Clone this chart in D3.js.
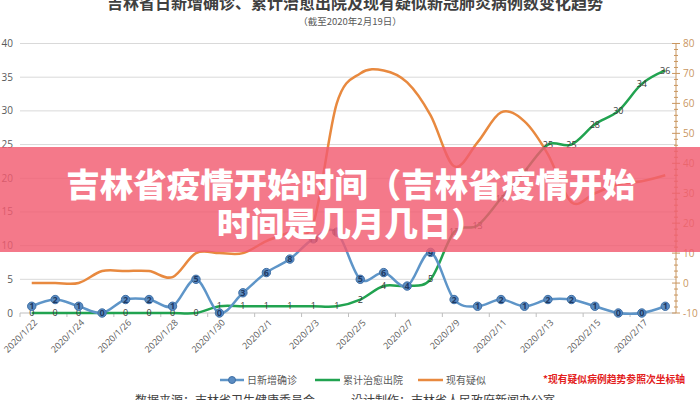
<!DOCTYPE html>
<html><head><meta charset="utf-8">
<script src="https://cdn.jsdelivr.net/npm/d3@7"></script>
<style>
html,body{margin:0;padding:0;background:#fff;}
svg{display:block;font-family:"Noto Sans CJK SC","Noto Sans",sans-serif;}
</style></head>
<body>
<svg id="chart" width="700" height="400"></svg>
<script>
const dates = ["2020/1/22","2020/1/23","2020/1/24","2020/1/25","2020/1/26","2020/1/27","2020/1/28","2020/1/29","2020/1/30","2020/1/31",
  "2020/2/1","2020/2/2","2020/2/3","2020/2/4","2020/2/5","2020/2/6","2020/2/7","2020/2/8","2020/2/9","2020/2/10",
  "2020/2/11","2020/2/12","2020/2/13","2020/2/14","2020/2/15","2020/2/16","2020/2/17","2020/2/18"];
const confirmed = [1,2,1,0,2,2,1,5,0,3,6,8,11,12,5,6,4,9,2,1,2,1,2,2,1,0,0,1];
const discharged = [0,0,0,0,0,0,0,0,1,1,1,1,1,1,2,4,4,5,12,13,17,21,25,25,28,30,34,36];
const suspected = [0,0,0,4,4,4,2,10,10,10,14,17,20,60,70,71,67,56,39,47,57,54,43,27,30,33,34,36];
const leftTicks = [0,5,10,15,20,25,30,35,40];
const rightTicks = [-10,0,10,20,30,40,50,60,70,80];
const seriesNames = ["日新增确诊","累计治愈出院","现有疑似"];
const titleText = "吉林省日新增确诊、累计治愈出院及现有疑似新冠肺炎病例数变化趋势";
const subtitleText = "（截至2020年2月19日）";
const noteText = "*现有疑似病例趋势参照次坐标轴";
const sourceText = "数据来源：吉林省卫生健康委员会　　　设计制作：吉林省人民政府新闻办公室";
const bannerLines = ["吉林省疫情开始时间（吉林省疫情开始","时间是几月几日）"];

const svg = d3.select("#chart");
const W = 700, H = 400;
const x = d3.scaleBand().domain(dates).range([20, 677]).padding(0);
const yL = d3.scaleLinear().domain([0, 40]).range([313, 43.5]);
const yR = d3.scaleLinear().domain([-10, 80]).range([313, 43.5]);
const cx = d => x(d) + x.bandwidth() / 2;

// title
svg.append("text").attr("x", 355).attr("y", 9).attr("text-anchor", "middle")
  .attr("font-size", 16).attr("font-weight", "bold").attr("fill", "#404040").text(titleText);
svg.append("text").attr("x", 350).attr("y", 25).attr("text-anchor", "middle")
  .attr("font-size", 9.5).attr("fill", "#595959").text(subtitleText);

// gridlines + left labels
const gl = svg.append("g");
leftTicks.forEach(t => {
  if (t > 0) gl.append("line").attr("x1", 20).attr("x2", 676).attr("y1", yL(t)).attr("y2", yL(t))
    .attr("stroke", "#d9d9d9").attr("stroke-width", 1);
  gl.append("text").attr("x", 13).attr("y", yL(t)).attr("dy", "0.35em").attr("text-anchor", "end")
    .attr("font-size", 10).attr("fill", "#595959").attr("font-family", "'Open Sans','Liberation Sans',sans-serif").text(t);
});

// x axis baseline + ticks + labels
svg.append("line").attr("x1", 20).attr("x2", 676).attr("y1", 313).attr("y2", 313).attr("stroke", "#bfbfbf");
dates.forEach((d, i) => {
  if (i % 2 === 0) {
    svg.append("line").attr("x1", x(d)).attr("x2", x(d)).attr("y1", 313).attr("y2", 317).attr("stroke", "#bfbfbf");
    svg.append("text").attr("transform", `translate(${cx(d) + 4},${321}) rotate(-45)`)
      .attr("text-anchor", "end").attr("dy", "0.35em").attr("font-size", 9).attr("fill", "#595959")
      .attr("font-family", "'Open Sans','Liberation Sans',sans-serif").text(d);
  }
});

// right axis
const axColor = "#c9965f";
svg.append("line").attr("x1", 676).attr("x2", 676).attr("y1", yR(80)).attr("y2", yR(-10)).attr("stroke", axColor);
d3.range(-10, 81, 2).forEach(v => {
  const major = v % 10 === 0;
  svg.append("line").attr("x1", major ? 672 : 674).attr("x2", major ? 680 : 678)
    .attr("y1", yR(v)).attr("y2", yR(v)).attr("stroke", axColor).attr("stroke-width", 1);
});
rightTicks.forEach(t => {
  svg.append("text").attr("x", 683).attr("y", yR(t)).attr("dy", "0.35em").attr("font-size", 10)
    .attr("fill", axColor).attr("font-family", "'Open Sans','Liberation Sans',sans-serif").text(t);
});

const curve = d3.curveCardinal.tension(0);
const lineL = d3.line().x((d, i) => cx(dates[i])).y(d => yL(d)).curve(curve);
const lineR = d3.line().x((d, i) => cx(dates[i])).y(d => yR(d)).curve(curve);

const cOrange = "#e8893f", cGreen = "#21a350", cBlue = "#5e95c8";

svg.append("path").attr("d", lineR(suspected)).attr("fill", "none").attr("stroke", cOrange).attr("stroke-width", 2.5);
svg.append("path").attr("d", lineL(discharged)).attr("fill", "none").attr("stroke", cGreen).attr("stroke-width", 2.5);
svg.append("path").attr("d", lineL(confirmed)).attr("fill", "none").attr("stroke", cBlue).attr("stroke-width", 2.5);

// green labels
discharged.forEach((v, i) => {
  svg.append("text").attr("x", cx(dates[i])).attr("y", yL(v)).attr("dy", "0.35em").attr("text-anchor", "middle")
    .attr("font-size", 9).attr("fill", "#3a3a3a").attr("font-family", "'Open Sans','Liberation Sans',sans-serif").text(v);
});
// blue markers + labels
confirmed.forEach((v, i) => {
  svg.append("circle").attr("cx", cx(dates[i])).attr("cy", yL(v)).attr("r", 4.2)
    .attr("fill", "#5b8cc2").attr("stroke", "#3f6fa5").attr("stroke-width", 1);
  svg.append("text").attr("x", cx(dates[i])).attr("y", yL(v)).attr("dy", "0.35em").attr("text-anchor", "middle")
    .attr("font-size", 9).attr("font-weight", "bold").attr("fill", "#1f3a63")
    .attr("font-family", "'Open Sans','Liberation Sans',sans-serif").text(v);
});

// legend
const lg = svg.append("g").attr("font-size", 10).attr("fill", "#595959");
lg.append("line").attr("x1", 220).attr("x2", 244).attr("y1", 380).attr("y2", 380).attr("stroke", cBlue).attr("stroke-width", 2.5);
lg.append("circle").attr("cx", 232).attr("cy", 380).attr("r", 3.5).attr("fill", "#5b8cc2").attr("stroke", "#3f6fa5");
lg.append("text").attr("x", 247).attr("y", 380).attr("dy", "0.35em").text(seriesNames[0]);
lg.append("line").attr("x1", 315).attr("x2", 340).attr("y1", 380).attr("y2", 380).attr("stroke", cGreen).attr("stroke-width", 2.5);
lg.append("text").attr("x", 343).attr("y", 380).attr("dy", "0.35em").text(seriesNames[1]);
lg.append("line").attr("x1", 418).attr("x2", 443).attr("y1", 380).attr("y2", 380).attr("stroke", cOrange).attr("stroke-width", 2.5);
lg.append("text").attr("x", 446).attr("y", 380).attr("dy", "0.35em").text(seriesNames[2]);
svg.append("text").attr("x", 543).attr("y", 380).attr("dy", "0.35em").attr("font-size", 9.8).attr("font-weight", "bold")
  .attr("fill", "#e31e1e").text(noteText);

// source (cut at bottom)
svg.append("text").attr("x", 345).attr("y", 405).attr("text-anchor", "middle").attr("font-size", 12)
  .attr("fill", "#404040").text(sourceText);

// banner
svg.append("rect").attr("x", 0).attr("y", 147).attr("width", W).attr("height", 105).attr("fill", "rgba(241,92,112,0.82)");
bannerLines.forEach((t, i) => {
  svg.append("text").attr("x", 351).attr("y", 197 + i * 39).attr("text-anchor", "middle")
    .attr("font-size", 33.5).attr("font-weight", 900).attr("fill", "#fff").text(t);
});
</script>
</body></html>
